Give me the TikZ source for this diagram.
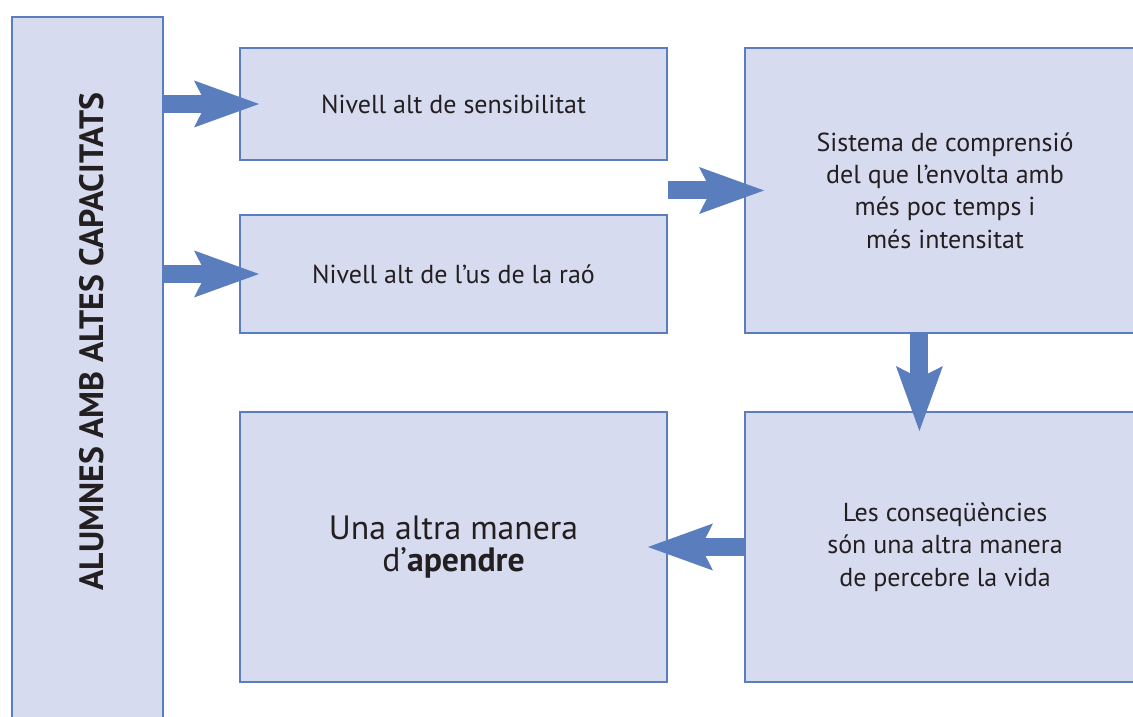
\documentclass[tikz,border=0pt]{standalone}
\usepackage{fontspec}
\setmainfont{PT Sans}
\usepackage{xcolor}
\usetikzlibrary{arrows.meta}

\definecolor{boxfill}{HTML}{D6DBEF}
\definecolor{boxline}{HTML}{5A7DBE}
\definecolor{textgray}{HTML}{231F20}

\begin{document}
\begin{tikzpicture}[
    box/.style={draw=boxline, line width=1.4pt, fill=boxfill, text=textgray,
      align=center, inner sep=0pt, font=\fontsize{18.5}{23}\selectfont},
    bigarrow/.style={draw=boxline, line width=0.45cm, shorten >=-0.5cm,
      -{Stealth[length=1.625cm, width=1.175cm, inset=0.3cm, line width=0pt]}}
  ]
    \clip (0,0) rectangle (28.325,17.9);

    % Left bar
    \node[box, minimum width=3.775cm, minimum height=18cm] (alumnes) at (2.1875,8.475) {};
    \node[text=textgray, rotate=90, font=\fontsize{24}{28}\selectfont\bfseries]
      (alumnesText) at (2.2875,9.3625) {ALUMNES AMB ALTES CAPACITATS};

    % Two levels
    \node[box, minimum width=10.675cm, minimum height=2.8cm] (sensibilitat)
      at (11.3375,15.3) {Nivell alt de sensibilitat};
    \node[box, minimum width=10.675cm, minimum height=2.95cm] (rao)
      at (11.3375,11.05) {Nivell alt de l’us de la raó};

    % Right column
    \node[box, minimum width=10cm, minimum height=7.125cm] (sistema)
      at (23.625,13.1375) {Sistema de comprensió\\del que l’envolta amb\\més poc temps i\\més intensitat};
    \node[box, minimum width=10cm, minimum height=6.75cm] (consequencies)
      at (23.625,4.225) {Les conseqüències\\són una altra manera\\de percebre la vida};

    % Result
    \node[box, minimum width=10.675cm, minimum height=6.75cm, font=\fontsize{24}{23}\selectfont] (manera)
      at (11.3375,4.225) {Una altra manera\\d’\textbf{apendre}};

    % Arrows
    \draw[bigarrow] (alumnes.east |- sensibilitat.west) -- (sensibilitat.west);
    \draw[bigarrow] (alumnes.east |- rao.west) -- (rao.west);
    \draw[bigarrow] (sensibilitat.east |- sistema.west) -- (sistema.west);
    \draw[bigarrow] ([xshift=-0.64cm]sistema.south) -- ([xshift=-0.64cm]consequencies.north);
    \draw[bigarrow] (consequencies.west) -- (manera.east);

\end{tikzpicture}
\end{document}
